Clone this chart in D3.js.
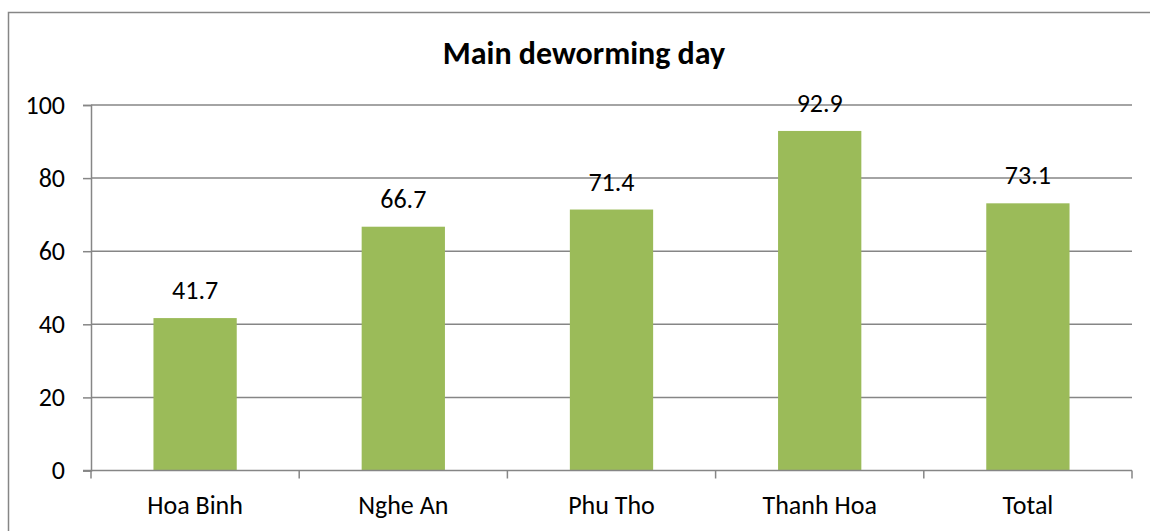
<!DOCTYPE html>
<html>
<head>
<meta charset="utf-8">
<script src="https://cdn.jsdelivr.net/npm/d3@7"></script>
<style>
html,body{margin:0;padding:0;background:#fff;}
svg{display:block;}
text{font-family:Carlito,Calibri,Lato,sans-serif;fill:#000;}
</style>
</head>
<body>
<svg id="chart" width="1150" height="531"></svg>
<script>
const categories = ["Hoa Binh", "Nghe An", "Phu Tho", "Thanh Hoa", "Total"];
const values = [41.7, 66.7, 71.4, 92.9, 73.1];
const yTicks = [0, 20, 40, 60, 80, 100];
const title = "Main deworming day";

const W = 1150, H = 531;
const margin = {left: 91, right: 1150 - 1132, top: 105, bottom: 531 - 470.5};
const svg = d3.select("#chart");
const FONT = "Carlito,Calibri,Lato,sans-serif";

// outer chart border
svg.append("rect")
  .attr("x", 8.5).attr("y", 12.5)
  .attr("width", W + 10).attr("height", H + 10)
  .attr("fill", "none").attr("stroke", "#868686").attr("stroke-width", 1.5);

const x = d3.scaleBand().domain(categories)
  .range([margin.left, W - margin.right]).paddingInner(0.6).paddingOuter(0.3);
const xOuter = d3.scaleBand().domain(categories)
  .range([margin.left, W - margin.right]);
const y = d3.scaleLinear().domain([0, 100]).range([H - margin.bottom, margin.top]);

const gridColor = "#868686";

// gridlines
svg.append("g").selectAll("line").data(yTicks.filter(d => d > 0)).join("line")
  .attr("x1", margin.left).attr("x2", W - margin.right)
  .attr("y1", d => y(d)).attr("y2", d => y(d))
  .attr("stroke", gridColor).attr("stroke-width", 1.5);

// y axis
const yAxis = svg.append("g").attr("transform", `translate(${margin.left},0)`)
  .call(d3.axisLeft(y).tickValues(yTicks).tickSize(8).tickPadding(18).tickFormat(d3.format("d")));
yAxis.select(".domain").attr("stroke", gridColor).attr("stroke-width", 1.5);
yAxis.selectAll(".tick line").attr("stroke", gridColor).attr("stroke-width", 1.5);
yAxis.selectAll(".tick text").attr("font-size", 26).attr("font-family", FONT).attr("fill", "#000");

// bars
svg.append("g").selectAll("rect").data(values).join("rect")
  .attr("x", (d, i) => x(categories[i]))
  .attr("width", x.bandwidth())
  .attr("y", d => y(d))
  .attr("height", d => y(0) - y(d))
  .attr("fill", "#9BBB59");

// x axis
const xAxisG = svg.append("g").attr("transform", `translate(0,${y(0)})`);
xAxisG.append("line")
  .attr("x1", margin.left - 8).attr("x2", W - margin.right)
  .attr("y1", 0).attr("y2", 0)
  .attr("stroke", gridColor).attr("stroke-width", 1.5);
const boundaries = categories.map(c => xOuter(c)).concat([W - margin.right]);
xAxisG.selectAll("line.tk").data(boundaries).join("line").attr("class", "tk")
  .attr("x1", d => d).attr("x2", d => d).attr("y1", 0).attr("y2", 8)
  .attr("stroke", gridColor).attr("stroke-width", 1.5);
xAxisG.selectAll("text").data(categories).join("text")
  .attr("x", d => xOuter(d) + xOuter.bandwidth() / 2)
  .attr("y", 43)
  .attr("text-anchor", "middle")
  .attr("font-size", 26)
  .text(d => d);

// value labels
svg.append("g").selectAll("text").data(values).join("text")
  .attr("x", (d, i) => x(categories[i]) + x.bandwidth() / 2)
  .attr("y", d => y(d) - 19)
  .attr("text-anchor", "middle")
  .attr("font-size", 26)
  .text(d => d.toFixed(1));

// title
svg.append("text")
  .attr("x", 584)
  .attr("y", 64)
  .attr("text-anchor", "middle")
  .attr("font-size", 32)
  .attr("font-weight", "bold")
  .text(title);
</script>
</body>
</html>
